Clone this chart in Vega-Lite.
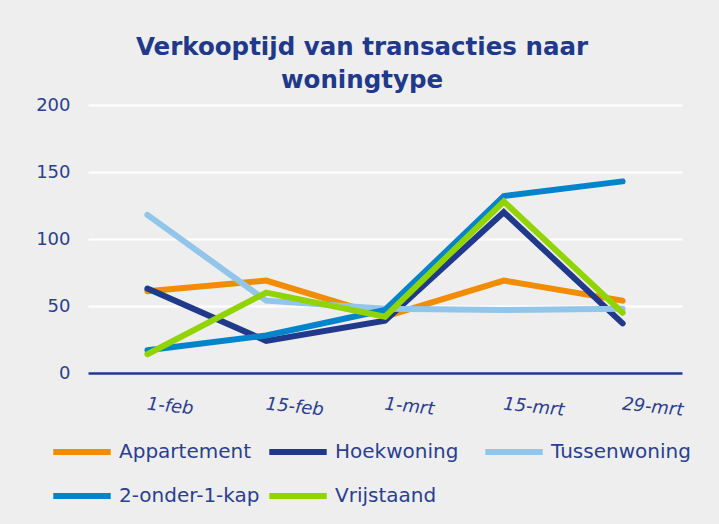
{
  "$schema": "https://vega.github.io/schema/vega-lite/v6.json",
  "width": 594,
  "height": 268,
  "autosize": {"type": "none"},
  "padding": {"left": 88, "top": 105, "right": 37, "bottom": 151},
  "background": "#eeeeee",
  "title": {
    "text": ["Verkooptijd van transacties naar", "woningtype"],
    "font": "DejaVu Sans",
    "fontSize": 24.5,
    "fontWeight": "bold",
    "color": "#21398A",
    "anchor": "middle",
    "dx": -23,
    "lineHeight": 33,
    "offset": 3
  },
  "data": {
    "values": [
      {"datum": "1-feb", "type": "Appartement", "dagen": 61},
      {"datum": "15-feb", "type": "Appartement", "dagen": 69},
      {"datum": "1-mrt", "type": "Appartement", "dagen": 42},
      {"datum": "15-mrt", "type": "Appartement", "dagen": 69},
      {"datum": "29-mrt", "type": "Appartement", "dagen": 54},
      {"datum": "1-feb", "type": "Hoekwoning", "dagen": 63},
      {"datum": "15-feb", "type": "Hoekwoning", "dagen": 24},
      {"datum": "1-mrt", "type": "Hoekwoning", "dagen": 39},
      {"datum": "15-mrt", "type": "Hoekwoning", "dagen": 120},
      {"datum": "29-mrt", "type": "Hoekwoning", "dagen": 37},
      {"datum": "1-feb", "type": "Tussenwoning", "dagen": 118},
      {"datum": "15-feb", "type": "Tussenwoning", "dagen": 54},
      {"datum": "1-mrt", "type": "Tussenwoning", "dagen": 48},
      {"datum": "15-mrt", "type": "Tussenwoning", "dagen": 47},
      {"datum": "29-mrt", "type": "Tussenwoning", "dagen": 48},
      {"datum": "1-feb", "type": "2-onder-1-kap", "dagen": 17},
      {"datum": "15-feb", "type": "2-onder-1-kap", "dagen": 28},
      {"datum": "1-mrt", "type": "2-onder-1-kap", "dagen": 47},
      {"datum": "15-mrt", "type": "2-onder-1-kap", "dagen": 132},
      {"datum": "29-mrt", "type": "2-onder-1-kap", "dagen": 143},
      {"datum": "1-feb", "type": "Vrijstaand", "dagen": 14},
      {"datum": "15-feb", "type": "Vrijstaand", "dagen": 60},
      {"datum": "1-mrt", "type": "Vrijstaand", "dagen": 42},
      {"datum": "15-mrt", "type": "Vrijstaand", "dagen": 128},
      {"datum": "29-mrt", "type": "Vrijstaand", "dagen": 45}
    ]
  },
  "mark": {"type": "line", "strokeWidth": 6, "strokeCap": "round", "strokeJoin": "miter"},
  "encoding": {
    "x": {
      "field": "datum",
      "type": "ordinal",
      "sort": null,
      "scale": {"type": "point", "padding": 0.5},
      "axis": {
        "title": null,
        "labelAngle": 6,
        "labelFont": "DejaVu Sans",
        "labelFontSize": 18,
        "labelFontStyle": "italic",
        "labelColor": "#2B3F8E",
        "labelPadding": 22,
        "labelDx": 20,
        "ticks": false,
        "domain": true,
        "domainColor": "#21398A",
        "domainWidth": 2.5,
        "grid": false
      }
    },
    "y": {
      "field": "dagen",
      "type": "quantitative",
      "scale": {"domain": [0, 200]},
      "axis": {
        "title": null,
        "values": [0, 50, 100, 150, 200],
        "labelFont": "DejaVu Sans",
        "labelFontSize": 18,
        "labelColor": "#2B3F8E",
        "labelPadding": 18,
        "ticks": false,
        "domain": false,
        "grid": true,
        "gridColor": "#ffffff",
        "gridWidth": 2
      }
    },
    "color": {
      "field": "type",
      "type": "nominal",
      "sort": ["Appartement", "Hoekwoning", "Tussenwoning", "2-onder-1-kap", "Vrijstaand"],
      "scale": {
        "domain": ["Appartement", "Hoekwoning", "Tussenwoning", "2-onder-1-kap", "Vrijstaand"],
        "range": ["#F28C00", "#21398A", "#92C5EA", "#0084CB", "#92D400"]
      },
      "legend": {
        "title": null,
        "orient": "none",
        "legendX": -38,
        "legendY": 315,
        "direction": "horizontal",
        "columns": 3,
        "gridAlign": "all",
        "symbolType": "stroke",
        "symbolSize": 3300,
        "symbolStrokeWidth": 6,
        "labelFont": "DejaVu Sans",
        "labelFontSize": 20,
        "labelColor": "#2B3F8E",
        "labelOffset": 5,
        "columnPadding": -3,
        "rowPadding": -27,
        "labelLimit": 300
      }
    },
    "order": {"field": "type"}
  },
  "config": {"view": {"stroke": null}}
}
